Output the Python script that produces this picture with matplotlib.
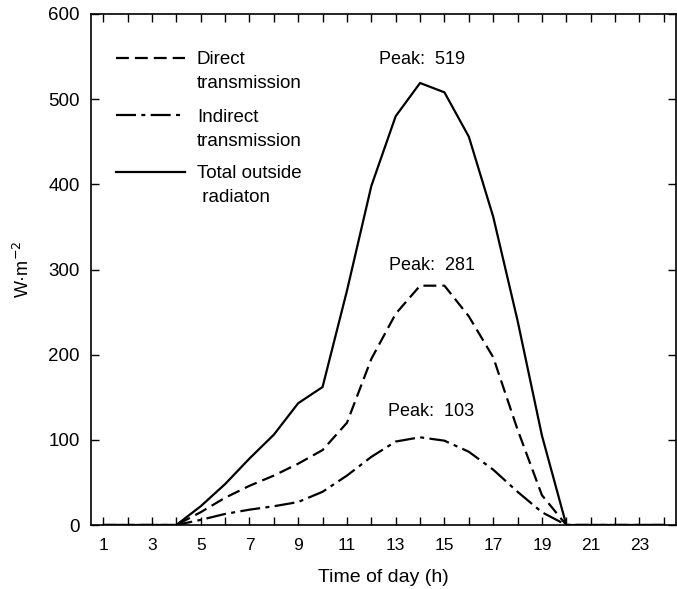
import matplotlib
matplotlib.use("Agg")
import matplotlib.pyplot as plt
from matplotlib.ticker import FixedLocator

plt.rcParams['font.family'] = ['Liberation Sans', 'DejaVu Sans']

hours = list(range(1, 25))
total = [0, 0, 0, 0, 22, 48, 78, 106, 143, 162, 275, 398, 480, 519, 508, 456, 362, 240, 105, 0, 0, 0, 0, 0]
direct = [0, 0, 0, 0, 15, 32, 46, 58, 72, 88, 120, 195, 248, 281, 281, 245, 197, 112, 35, 0, 0, 0, 0, 0]
indirect = [0, 0, 0, 0, 6, 13, 18, 22, 27, 39, 58, 80, 98, 103, 99, 86, 65, 39, 15, 0, 0, 0, 0, 0]

labels = [("Direct", "transmission"), ("Indirect", "transmission"), ("Total outside", " radiaton")]
peaks = [(14.1, 546, "Peak:  519"), (14.5, 305, "Peak:  281"), (14.45, 133, "Peak:  103")]
xticklabels = [str(h) for h in range(1, 24, 2)]
yticks = [0, 100, 200, 300, 400, 500, 600]

lw = 1.6
dash = (0, (5.8, 2.7))
dashdot = (0, (9, 2.4, 1.8, 2.4))

fig = plt.figure(figsize=(6.77, 5.89), dpi=100)
ax = fig.add_axes([91/677, 1-525/589, (676-91)/677, (525-14)/589])

ax.plot(hours, direct, color='black', lw=lw, linestyle=dash)
ax.plot(hours, indirect, color='black', lw=lw, linestyle=dashdot)
ax.plot(hours, total, color='black', lw=lw, linestyle='-')

ax.set_xlim(0.5, 24.5)
ax.set_ylim(0, 600)
ax.xaxis.set_major_locator(FixedLocator(list(range(1, 24, 2))))
ax.set_xticklabels(xticklabels)
ax.xaxis.set_minor_locator(FixedLocator(list(range(2, 25, 2))))
ax.set_yticks(yticks)
ax.tick_params(axis='both', which='both', direction='in', top=True, right=True,
               length=6, width=1.0)
ax.tick_params(axis='x', labelsize=12.5, pad=9)
ax.tick_params(axis='y', labelsize=13.5, pad=8)
for s in ax.spines.values():
    s.set_linewidth(1.2)

ax.set_xlabel("Time of day (h)", fontsize=14, labelpad=12)
ax.set_ylabel("W·m$^{-2}$", fontsize=13, labelpad=11)

for x, y, t in peaks:
    ax.text(x, y, t, ha='center', va='center', fontsize=13)

# legend
styles = [dash, dashdot, '-']
line_px = [58, 115, 172]
H = 511.0
for st, py, (l1, l2) in zip(styles, line_px, labels):
    yy = (525 - py) / H
    ax.plot([0.043, 0.161], [yy, yy], transform=ax.transAxes, color='black', lw=lw, linestyle=st)
    ax.text(0.181, (525 - (py + 6.5)) / H, l1, transform=ax.transAxes, ha='left',
            va='baseline', fontsize=13.5)
    ax.text(0.181, (525 - (py + 30.5)) / H, l2, transform=ax.transAxes, ha='left',
            va='baseline', fontsize=13.5)

fig.savefig("out.png", dpi=100)
